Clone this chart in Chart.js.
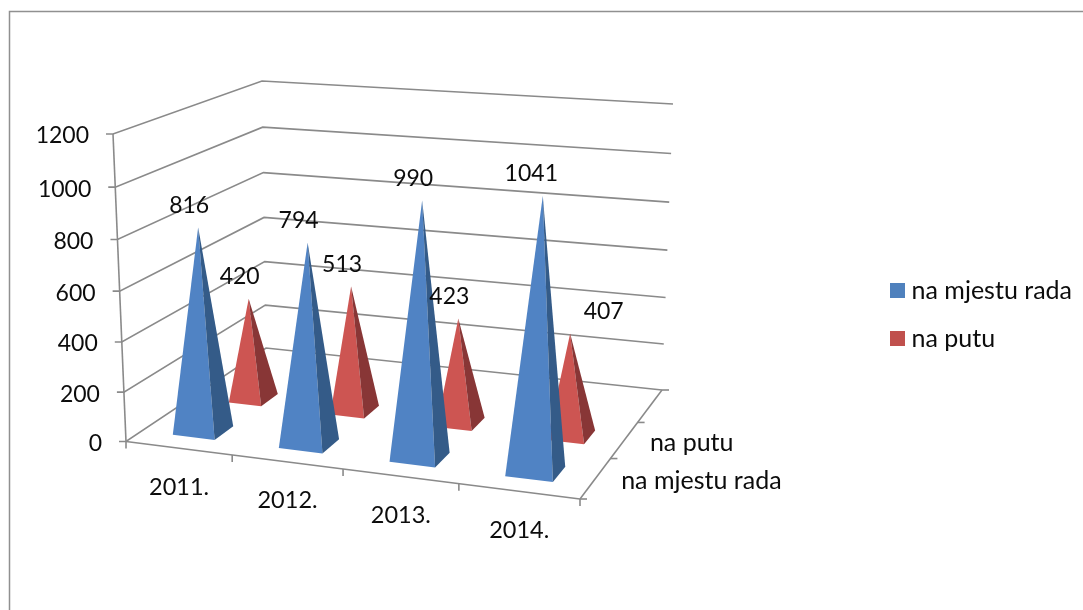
<!DOCTYPE html>
<html>
<head>
<meta charset="utf-8">
<style>html,body{margin:0;padding:0;background:#fff}canvas{display:block}</style>
<script src="https://cdn.jsdelivr.net/npm/chart.js@4"></script>
</head>
<body>
<canvas id="c" width="1083" height="610"></canvas>
<script>
const categories = ['2011.', '2012.', '2013.', '2014.'];
const seriesNames = ['na mjestu rada', 'na putu'];
const naMjestuRada = [816, 794, 990, 1041];
const naPutu = [420, 513, 423, 407];
const yMax = 1200, yStep = 200;

const FONT_NUM = '23px Lato';
const FONT_YEAR = '23.5px Lato';
const FONT_NAME = '25px Lato';
const INK = '#0c0c0c';
const GRID = '#8a8a8a';
const legendColors = ['#4F81BD', '#C0504D'];
const frontColors = ['#5083C4', '#CD5552'];
const sideColors = ['#345B88', '#883636'];

// camera: the eight corners of the plot box on the page
const box = {
  fl: [126, 441.5], fr: [580, 499], br: [662, 390], bl: [266, 348],
  flt: [113, 134], frt: [591, 169], brt: [673, 104], blt: [262, 81]
};
const warp = (t, b) => b * t / (1 + (b - 1) * t);
const lerp = (a, b, t) => [a[0] + (b[0] - a[0]) * t, a[1] + (b[1] - a[1]) * t];
function project(u, v, w) {
  const U = warp(u, 0.916), V = warp(v, 1.18), W = warp(w, 0.957);
  const bot = lerp(lerp(box.fl, box.fr, U), lerp(box.bl, box.br, U), V);
  const top = lerp(lerp(box.flt, box.frt, U), lerp(box.blt, box.brt, U), V);
  return lerp(bot, top, W);
}
const DEPTH_SLOTS = 3;
const depthOf = i => (i + 0.5) / DEPTH_SLOTS;
function fractions(chart, index, value) {
  const x = chart.scales.x, y = chart.scales.y;
  return {
    u: (x.getPixelForValue(index) - x.left) / x.width,
    w: (y.bottom - y.getPixelForValue(value)) / y.height
  };
}
function line(ctx, a, b) {
  ctx.beginPath(); ctx.moveTo(a[0], a[1]); ctx.lineTo(b[0], b[1]); ctx.stroke();
}
function poly(ctx, pts, fill) {
  ctx.fillStyle = fill;
  ctx.beginPath();
  pts.forEach((p, i) => i ? ctx.lineTo(p[0], p[1]) : ctx.moveTo(p[0], p[1]));
  ctx.closePath();
  ctx.fill();
}

class PyramidController extends Chart.BarController {
  draw() {
    const ctx = this.chart.ctx, ds = this.index;
    const values = this.getDataset().data;
    const v = depthOf(ds);
    const du = 0.0551 - 0.0271 * warp(v, 1.18), dv = 0.064;
    const shift = (v - depthOf(0)) * 0.033;
    const vb = v - 0.005 - (v - depthOf(0)) * 0.02;
    ctx.save();
    values.forEach((val, i) => {
      const f = fractions(this.chart, i, val);
      const a = project(f.u + shift - du, vb - dv, 0);
      const b = project(f.u + shift + du, vb - dv, 0);
      const c = project(f.u + shift + du, vb + dv, 0);
      const apex = project(f.u, v, f.w);
      poly(ctx, [a, b, apex], frontColors[ds]);
      poly(ctx, [b, c, apex], sideColors[ds]);
    });
    ctx.restore();
  }
}
PyramidController.id = 'pyramid';
PyramidController.defaults = Chart.BarController.defaults;
PyramidController.overrides = Chart.BarController.overrides;
Chart.register(PyramidController);

const frameAndBox = {
  id: 'frameAndBox',
  beforeDatasetsDraw(chart) {
    const ctx = chart.ctx, yS = chart.scales.y, xS = chart.scales.x;
    ctx.save();
    ctx.strokeStyle = '#909090'; ctx.lineWidth = 1.5;
    ctx.beginPath(); ctx.moveTo(9.5, chart.height); ctx.lineTo(9.5, 11.5); ctx.lineTo(chart.width, 11.5); ctx.stroke();
    ctx.strokeStyle = GRID; ctx.lineWidth = 1.6;
    ctx.fillStyle = INK; ctx.textBaseline = 'middle';
    // value axis, walls and their labels
    ctx.font = FONT_NUM;
    line(ctx, project(0, 0, 0), project(0, 0, 1));
    ctx.textAlign = 'right';
    yS.ticks.forEach(t => {
      const w = (yS.bottom - yS.getPixelForValue(t.value)) / yS.height;
      const p = project(0, 0, w), back = project(0, 1, w), right = project(1, 1, w);
      ctx.beginPath(); ctx.moveTo(p[0] - 7, p[1]); ctx.lineTo(p[0], p[1]); ctx.lineTo(back[0], back[1]); ctx.lineTo(right[0], right[1]); ctx.stroke();
      ctx.fillText(String(t.value), p[0] - 24, p[1] + 2);
    });
    // floor edges, category ticks and labels
    line(ctx, project(0, 0, 0), project(1, 0, 0));
    line(ctx, project(1, 0, 0), project(1, 1, 0));
    ctx.font = FONT_YEAR;
    ctx.textAlign = 'center';
    for (let i = 0; i <= categories.length; i++) {
      const p = project(i / categories.length, 0, 0);
      line(ctx, p, [p[0], p[1] + 7]);
    }
    xS.getLabels().forEach((label, i) => {
      const f = fractions(chart, i, 0), p = project(f.u, 0, 0);
      ctx.fillText(label, p[0] + 0.5, p[1] + 39);
    });
    // depth ticks and labels
    ctx.font = FONT_NAME;
    ctx.textAlign = 'left';
    for (let d = 0; d <= DEPTH_SLOTS; d++) {
      const p = project(1, d / DEPTH_SLOTS, 0);
      line(ctx, p, [p[0] + 7, p[1]]);
    }
    seriesNames.forEach((name, d) => {
      const p = project(1, depthOf(d), 0);
      ctx.fillText(name, p[0] + 25.5, p[1] + 3);
    });
    ctx.restore();
  },
  afterDatasetsDraw(chart) {
    const ctx = chart.ctx;
    ctx.save();
    ctx.font = FONT_NUM; ctx.fillStyle = INK; ctx.textAlign = 'center'; ctx.textBaseline = 'middle';
    chart.data.datasets.forEach((ds, d) => {
      ds.data.forEach((val, i) => {
        const f = fractions(chart, i, val), p = project(f.u, depthOf(d), f.w);
        const dx = d === 1 && i === 3 ? 33.5 : (d === 0 && i === 3 ? -11.5 : -9);
        ctx.fillText(String(val), p[0] + dx, p[1] - 22);
      });
    });
    ctx.restore();
  }
};

function swatch(color) {
  const s = document.createElement('canvas');
  s.width = 15; s.height = 15;
  const c = s.getContext('2d');
  c.fillStyle = color; c.fillRect(0, 0, 15, 15);
  return s;
}

new Chart(document.getElementById('c'), {
  type: 'pyramid',
  data: {
    labels: categories,
    datasets: [
      { label: seriesNames[0], data: naMjestuRada, backgroundColor: legendColors[0] },
      { label: seriesNames[1], data: naPutu, backgroundColor: legendColors[1] }
    ]
  },
  plugins: [frameAndBox],
  options: {
    responsive: false,
    animation: false,
    layout: { padding: { top: 19, right: 1, left: 0, bottom: 0 } },
    scales: {
      x: { ticks: { display: false }, grid: { display: false }, border: { display: false } },
      y: { min: 0, max: yMax, ticks: { display: false, stepSize: yStep }, grid: { display: false }, border: { display: false } }
    },
    plugins: {
      tooltip: { enabled: false },
      legend: {
        position: 'right',
        labels: {
          usePointStyle: true,
          boxWidth: 4,
          boxHeight: 15,
          padding: 23,
          color: INK,
          font: { family: 'Lato', size: 25 },
          generateLabels(chart) {
            const items = Chart.defaults.plugins.legend.labels.generateLabels(chart);
            items.forEach((it, i) => { it.pointStyle = swatch(legendColors[i]); });
            return items;
          }
        }
      }
    }
  }
});
</script>
</body>
</html>
